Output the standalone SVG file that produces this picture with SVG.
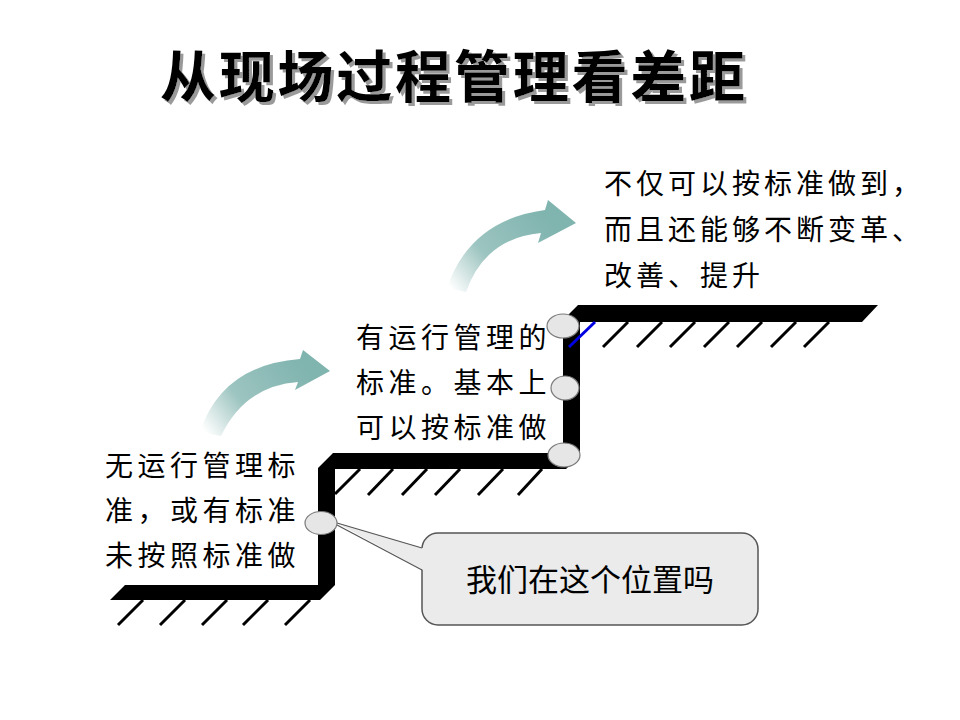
<svg xmlns="http://www.w3.org/2000/svg" width="960" height="720" viewBox="0 0 960 720">
  <defs>
    <style>
      .title { font-family: "Noto Sans CJK SC", "Liberation Sans", sans-serif; font-size: 56px; font-weight: bold; fill: #000; }
      .txt { font-family: "Noto Sans CJK SC", "Liberation Sans", sans-serif; font-size: 28px; fill: #000; letter-spacing: 4.5px; }
      .txt2 { font-family: "Noto Sans CJK SC", "Liberation Sans", sans-serif; font-size: 28px; fill: #000; letter-spacing: 4px; }
      .call { font-family: "Noto Sans CJK SC", "Liberation Sans", sans-serif; font-size: 31px; fill: #000; }
      .hatch { stroke: #000; stroke-width: 3; fill: none; }
      .dot { fill: #e6e6e6; stroke: #7a7a7a; stroke-width: 1.2; }
    </style>
    <filter id="shadow" x="-5%" y="-20%" width="110%" height="140%">
      <feFlood flood-color="#9a9a9a"/>
      <feComposite in2="SourceAlpha" operator="in"/>
      <feOffset dx="3" dy="3" result="sh"/>
      <feMerge>
        <feMergeNode in="sh"/>
        <feMergeNode in="SourceGraphic"/>
      </feMerge>
    </filter>
    <linearGradient id="g1" gradientUnits="userSpaceOnUse" x1="205" y1="432" x2="300" y2="360">
      <stop offset="0" stop-color="#ffffff"/>
      <stop offset="0.4" stop-color="#9cc4c0"/>
      <stop offset="1" stop-color="#80b4af"/>
    </linearGradient>
    <linearGradient id="g2" gradientUnits="userSpaceOnUse" x1="452" y1="290" x2="545" y2="215">
      <stop offset="0" stop-color="#ffffff"/>
      <stop offset="0.4" stop-color="#9cc4c0"/>
      <stop offset="1" stop-color="#80b4af"/>
    </linearGradient>
  </defs>
  <rect width="960" height="720" fill="#ffffff"/>

  <g id="title">
    <text class="title" x="160" y="97" textLength="585" lengthAdjust="spacing" filter="url(#shadow)">从现场过程管理看差距</text>
  </g>

  <g id="connectors">
    <path id="arrow1" d="M200,432 Q222,365 300,359 L303,350 L330,371 L295,390 L298,382 Q245,386 221,436 Z" fill="url(#g1)"/>
    <path id="arrow2" d="M447,288 Q470,220 545,210 L548,200 L576,223 L538,243 L541,233 Q485,238 466,292 Z" fill="url(#g2)"/>
  </g>

  <g id="steps">
    <polygon points="125,585 318,585 318,468 333,453 563,453 563,320 578,305 878,305 862,322 580,322 580,455 566,469 335,469 335,585 320,600 110,600" fill="#000"/>
    <g id="hatch-low">
      <line class="hatch" x1="143" y1="600" x2="118" y2="625"/>
      <line class="hatch" x1="185" y1="600" x2="160" y2="625"/>
      <line class="hatch" x1="227" y1="600" x2="202" y2="625"/>
      <line class="hatch" x1="268" y1="600" x2="243" y2="625"/>
      <line class="hatch" x1="310" y1="600" x2="285" y2="625"/>
    </g>
    <g id="hatch-mid">
      <line class="hatch" x1="360" y1="469" x2="335" y2="494"/>
      <line class="hatch" x1="393" y1="469" x2="368" y2="495"/>
      <line class="hatch" x1="427" y1="469" x2="402" y2="495"/>
      <line class="hatch" x1="460" y1="469" x2="435" y2="495"/>
      <line class="hatch" x1="503" y1="469" x2="478" y2="495"/>
      <line class="hatch" x1="542" y1="469" x2="518" y2="495"/>
    </g>
    <g id="hatch-top">
      <line x1="595" y1="322" x2="569" y2="347" stroke="#0000e0" stroke-width="3"/>
      <line class="hatch" x1="628" y1="322" x2="603" y2="347"/>
      <line class="hatch" x1="662" y1="322" x2="637" y2="347"/>
      <line class="hatch" x1="695" y1="322" x2="670" y2="347"/>
      <line class="hatch" x1="729" y1="322" x2="704" y2="347"/>
      <line class="hatch" x1="762" y1="322" x2="737" y2="347"/>
      <line class="hatch" x1="796" y1="322" x2="771" y2="347"/>
      <line class="hatch" x1="829" y1="322" x2="804" y2="347"/>
    </g>
  </g>

  <g id="callout">
    <rect x="422" y="533" width="336" height="92" rx="16" ry="16" fill="#ebebeb" stroke="#555" stroke-width="1.5"/>
    <path d="M337,523 L423,548 L423,570 Z" fill="#ebebeb" stroke="none"/>
    <line x1="337" y1="523" x2="422" y2="548" stroke="#555" stroke-width="1.2"/>
    <line x1="337" y1="525" x2="422" y2="570" stroke="#555" stroke-width="1.2"/>
    <text class="call" x="590" y="591" text-anchor="middle">我们在这个位置吗</text>
  </g>

  <g id="dots">
    <ellipse class="dot" cx="321" cy="523" rx="16" ry="11.5"/>
    <ellipse class="dot" cx="564" cy="455" rx="16" ry="12"/>
    <ellipse class="dot" cx="565" cy="388" rx="14" ry="12"/>
    <ellipse class="dot" cx="563" cy="326" rx="16" ry="12"/>
  </g>

  <g id="label-low">
    <text class="txt" x="105" y="476">无运行管理标</text>
    <text class="txt" x="105" y="521">准，或有标准</text>
    <text class="txt" x="105" y="566">未按照标准做</text>
  </g>
  <g id="label-mid">
    <text class="txt" x="356" y="348">有运行管理的</text>
    <text class="txt" x="356" y="393">标准。基本上</text>
    <text class="txt" x="356" y="438">可以按标准做</text>
  </g>
  <g id="label-top">
    <text class="txt2" x="604" y="194">不仅可以按标准做到，</text>
    <text class="txt2" x="604" y="240">而且还能够不断变革、</text>
    <text class="txt2" x="604" y="286">改善、提升</text>
  </g>
</svg>
